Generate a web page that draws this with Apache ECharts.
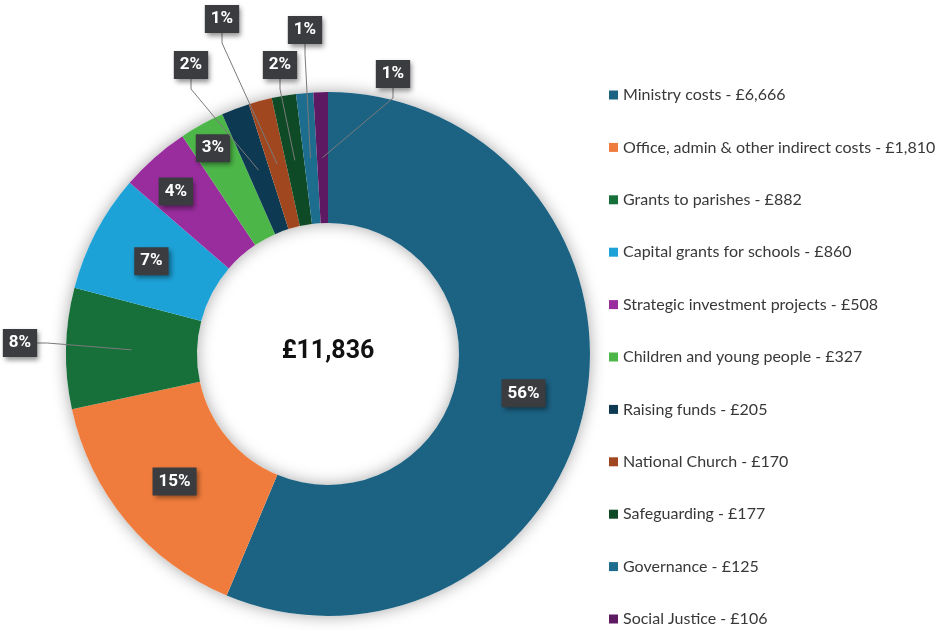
<!DOCTYPE html>
<html>
<head>
<meta charset="utf-8">
<script src="https://cdn.jsdelivr.net/npm/echarts@6/dist/echarts.min.js"></script>
<style>
  html, body { margin: 0; padding: 0; background: #fff; }
  #main { width: 944px; height: 630px; }
</style>
</head>
<body>
<div id="main"></div>
<script>
// categories and values (£)
const categories = [
  "Ministry costs",
  "Office, admin & other indirect costs",
  "Grants to parishes",
  "Capital grants for schools",
  "Strategic investment projects",
  "Children and young people",
  "Raising funds",
  "National Church",
  "Safeguarding",
  "Governance",
  "Social Justice"
];
const values = [6666, 1810, 882, 860, 508, 327, 205, 170, 177, 125, 106];
// percentage labels as shown on the chart
const pctLabels = ["56%", "15%", "8%", "7%", "4%", "3%", "2%", "1%", "2%", "1%", "1%"];

const colors = ["#1c6283", "#ef7c3c", "#17703a", "#1da2d8", "#9a2d9e", "#4cb748",
  "#0d3a52", "#a1471f", "#0e4a25", "#1d6d8e", "#5d1a62"];

// which slices get their label inside the ring, which outside with a leader line
const insideIdx = [0, 1, 3, 4, 5];
const insideOffset = { 4: [-20, -13], 5: [-19, -31] };
const outsidePos = {
  2: [20, 343],
  6: [191, 65],
  7: [222, 19],
  8: [280, 65],
  9: [305, 30],
  10: [393, 74]
};

const total = values.reduce((a, b) => a + b, 0);
const fmt = n => n.toLocaleString("en-GB");

const labelBox = {
  backgroundColor: "#3a3c3f",
  color: "#fff",
  fontFamily: "Roboto, 'Liberation Sans', sans-serif",
  fontWeight: "bold",
  fontSize: 17,
  lineHeight: 17,
  padding: [6, 6, 5, 6],
  shadowBlur: 5,
  shadowColor: "rgba(0,0,0,0.45)",
  shadowOffsetX: 2,
  shadowOffsetY: 3,
  formatter: p => pctLabels[p.dataIndex]
};

const cx = 328, cy = 354, r0 = 131, r1 = 262;

let myChart = echarts.init(document.getElementById("main"));
myChart.setOption({
  backgroundColor: "#fff",
  animation: false,
  color: colors,
  legend: {
    data: categories,
    orient: "vertical",
    left: 609,
    top: 87,
    padding: 0,
    icon: "rect",
    itemWidth: 9,
    itemHeight: 9,
    itemGap: 36.4,
    textStyle: {
      color: "#383838",
      fontSize: 16,
      lineHeight: 16,
      fontFamily: "Lato, 'Noto Sans', sans-serif"
    },
    formatter: name => name + " - £" + fmt(values[categories.indexOf(name)])
  },
  graphic: [{
    type: "text",
    x: cx,
    y: cy - 2,
    style: {
      text: "£" + fmt(total),
      fill: "#111",
      font: "bold 25px Roboto, 'Liberation Sans', sans-serif",
      textAlign: "center",
      textVerticalAlign: "middle"
    }
  }],
  series: [
    {
      // shadow ring beneath the donut
      type: "pie",
      silent: true,
      z: 1,
      center: [cx, cy],
      radius: [r0, r1],
      label: { show: false },
      labelLine: { show: false },
      itemStyle: { color: "#fff", shadowBlur: 16, shadowColor: "rgba(0,0,0,0.35)" },
      data: [{ name: "_bg", value: 1 }]
    },
    {
      type: "pie",
      z: 2,
      center: [cx, cy],
      radius: [r0, r1],
      startAngle: 90,
      clockwise: true,
      avoidLabelOverlap: false,
      itemStyle: { borderWidth: 0 },
      label: Object.assign({ position: "inside" }, labelBox),
      labelLine: { show: false },
      data: categories.map((c, i) => ({
        name: c,
        value: values[i],
        label: {
          show: insideIdx.includes(i),
          offset: insideOffset[i] || [0, 0]
        }
      }))
    },
    {
      // invisible ring-middle pie carrying the outside labels + leader lines
      type: "pie",
      z: 3,
      silent: true,
      center: [cx, cy],
      radius: [0, (r0 + r1) / 2],
      startAngle: 90,
      clockwise: true,
      avoidLabelOverlap: false,
      itemStyle: { color: "rgba(0,0,0,0)" },
      label: Object.assign({ position: "outside" }, labelBox),
      labelLine: { show: true, length: 20, length2: 10, lineStyle: { color: "#7a7a7a", width: 1 } },
      labelLayout: p => {
        const pos = outsidePos[p.dataIndex];
        if (!pos) return {};
        return { x: pos[0], y: pos[1], align: "center", verticalAlign: "middle" };
      },
      data: categories.map((c, i) => ({
        name: c,
        value: values[i],
        label: { show: outsidePos[i] !== undefined },
        labelLine: { show: outsidePos[i] !== undefined }
      }))
    }
  ]
});
</script>
</body>
</html>
